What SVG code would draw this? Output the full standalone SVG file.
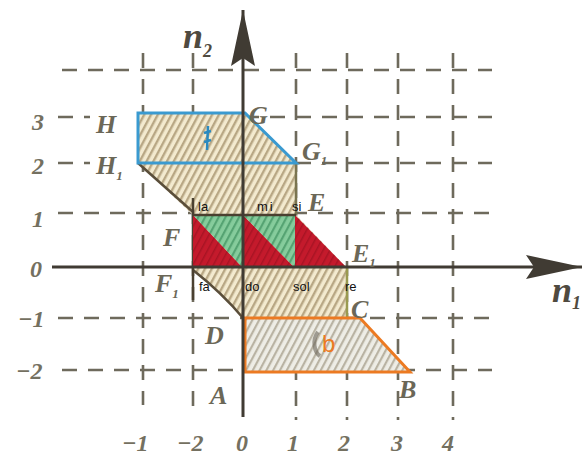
<svg xmlns="http://www.w3.org/2000/svg" width="585" height="457" viewBox="0 0 585 457">
<defs>
<pattern id="hTan" width="6" height="6" patternUnits="userSpaceOnUse" patternTransform="rotate(28)">
<rect width="6" height="6" fill="#f3eacf"/><rect width="2.4" height="6" fill="#b8a784"/>
</pattern>
<pattern id="hGrey" width="6" height="6" patternUnits="userSpaceOnUse" patternTransform="rotate(28)">
<rect width="6" height="6" fill="#eeede6"/><rect width="2.2" height="6" fill="#b9b3a3"/>
</pattern>
<pattern id="hGreen" width="6" height="6" patternUnits="userSpaceOnUse" patternTransform="rotate(28)">
<rect width="6" height="6" fill="#86cc9c"/><rect width="2.2" height="6" fill="#55a372"/>
</pattern>
<pattern id="hRed" width="6" height="6" patternUnits="userSpaceOnUse" patternTransform="rotate(28)">
<rect width="6" height="6" fill="#c41a2c"/><rect width="1.5" height="6" fill="#a81424"/>
</pattern>
<marker id="arr" viewBox="0 0 60 30" refX="58" refY="15" markerWidth="60" markerHeight="30" markerUnits="userSpaceOnUse" orient="auto">
<path d="M58,15 L2,3 L10,15 L2,27 Z" fill="#403b33"/>
</marker>
</defs>
<style>
.grid{stroke:#6e6a5c;stroke-width:2.6;fill:none;stroke-dasharray:15 11}
.axis{stroke:#403b33;stroke-width:3;fill:none}
.num{font-family:"Liberation Serif",serif;font-style:italic;font-weight:bold;font-size:24px;fill:#747060}
.lbl{font-family:"Liberation Serif",serif;font-style:italic;font-weight:bold;font-size:26px;fill:#6b6757}
.sub{font-size:13px}
.big{font-size:36px;fill:#4f4a40}
.bigsub{font-size:18px}
.note{font-family:"Liberation Sans",sans-serif;font-size:13px;fill:#111}
.edge{stroke:#5a4e3a;stroke-width:2.5;fill:none}
</style>
<rect width="585" height="457" fill="#ffffff"/>

<g id="grid">
<line class="grid" x1="62" y1="70" x2="492" y2="70"/>
<line class="grid" x1="58" y1="117" x2="90" y2="117"/>
<line class="grid" x1="140" y1="117" x2="492" y2="117"/>
<line class="grid" x1="58" y1="163" x2="90" y2="163"/>
<line class="grid" x1="140" y1="163" x2="492" y2="163"/>
<line class="grid" x1="58" y1="213" x2="492" y2="213"/>
<line class="grid" x1="58" y1="318" x2="492" y2="318"/>
<line class="grid" x1="62" y1="370" x2="492" y2="370"/>
<line class="grid" x1="143" y1="53" x2="143" y2="405"/>
<line class="grid" x1="193" y1="53" x2="193" y2="415"/>
<line class="grid" x1="296" y1="53" x2="296" y2="420"/>
<line class="grid" x1="347" y1="53" x2="347" y2="420"/>
<line class="grid" x1="398" y1="53" x2="398" y2="420"/>
<line class="grid" x1="453" y1="53" x2="453" y2="420"/>
</g>

<g id="region-main">
<path d="M138,113 L245,113 L296,163 L296,215 L347,268 L347,318 L243,318 C228,300 212,285 193,270 L193,215 L138,163 Z" fill="url(#hTan)"/>
<path class="edge" d="M138,163 L193,212"/>
<path class="edge" d="M193,270 C212,285 228,300 243,318"/>
<line x1="193" y1="198" x2="193" y2="300" stroke="#4a4030" stroke-width="2.5"/>
<line x1="296" y1="163" x2="296" y2="215" stroke="#7a7450" stroke-width="2.5"/>
<line x1="347" y1="268" x2="347" y2="318" stroke="#9a9a50" stroke-width="2.5"/>
</g>

<g id="region-a">
<path d="M138,113 L245,113 L296,163 L138,163 Z" fill="none" stroke="#3a9ad0" stroke-width="3"/>
<path d="M208,126 L207,150 M204,133 L211,131 M204,142 L211,140" stroke="#2a8ac0" stroke-width="2.5" fill="none"/>
</g>

<g id="region-tones">
<path d="M193,215 L243,268 L193,268 Z" fill="url(#hRed)"/>
<path d="M193,215 L243,215 L243,268 Z" fill="url(#hGreen)"/>
<path d="M243,215 L295,268 L243,268 Z" fill="url(#hRed)"/>
<path d="M243,215 L295,215 L295,268 Z" fill="url(#hGreen)"/>
<path d="M295,215 L347,268 L295,268 Z" fill="url(#hRed)"/>
<line x1="193" y1="215" x2="296" y2="215" stroke="#4a4030" stroke-width="2.5"/>
</g>

<g id="region-b">
<path d="M245,318 L360,318 L410,372 L245,372 Z" fill="url(#hGrey)" stroke="#ec7a22" stroke-width="3"/>
<path d="M318,332 C312,340 314,352 320,356" stroke="#6a6458" stroke-width="4" fill="none" opacity="0.6"/>
<text x="322" y="352" font-family="Liberation Sans,sans-serif" font-size="24" fill="#ec7a22">b</text>
</g>

<g id="axes">
<line class="axis" x1="52" y1="267" x2="582" y2="267" marker-end="url(#arr)"/>
<line class="axis" x1="243" y1="417" x2="243" y2="10" marker-end="url(#arr)"/>
<text class="lbl big" x="183" y="48">n<tspan class="bigsub" dy="9">2</tspan></text>
<text class="lbl big" x="552" y="302">n<tspan class="bigsub" dy="7">1</tspan></text>
</g>

<g id="ticks">
<text class="num" x="32" y="130">3</text>
<text class="num" x="32" y="174">2</text>
<text class="num" x="32" y="227">1</text>
<text class="num" x="30" y="277">0</text>
<text class="num" x="18" y="327">−1</text>
<text class="num" x="16" y="379">−2</text>
<text class="num" x="122" y="451">−1</text>
<text class="num" x="177" y="451">−2</text>
<text class="num" x="236" y="451">0</text>
<text class="num" x="287" y="451">1</text>
<text class="num" x="338" y="451">2</text>
<text class="num" x="391" y="451">3</text>
<text class="num" x="442" y="451">4</text>
</g>

<g id="points">
<text class="lbl" x="96" y="133">H</text>
<text class="lbl" x="96" y="174">H<tspan class="sub" dy="6">1</tspan></text>
<text class="lbl" x="249" y="124">G</text>
<text class="lbl" x="302" y="160">G<tspan class="sub" dy="5">1</tspan></text>
<text class="lbl" x="308" y="211">E</text>
<text class="lbl" x="352" y="262">E<tspan class="sub" dy="5">1</tspan></text>
<text class="lbl" x="163" y="246">F</text>
<text class="lbl" x="155" y="292">F<tspan class="sub" dy="6">1</tspan></text>
<text class="lbl" x="205" y="344">D</text>
<text class="lbl" x="351" y="318">C</text>
<text class="lbl" x="210" y="404">A</text>
<text class="lbl" x="399" y="398">B</text>
</g>

<g id="notes">
<text class="note" x="198" y="211">la</text>
<text class="note" x="257" y="211" letter-spacing="2">mi</text>
<text class="note" x="292" y="211">si</text>
<text class="note" x="199" y="291">fa</text>
<text class="note" x="245" y="291">do</text>
<text class="note" x="293" y="291">sol</text>
<text class="note" x="345" y="291">re</text>
</g>
</svg>
